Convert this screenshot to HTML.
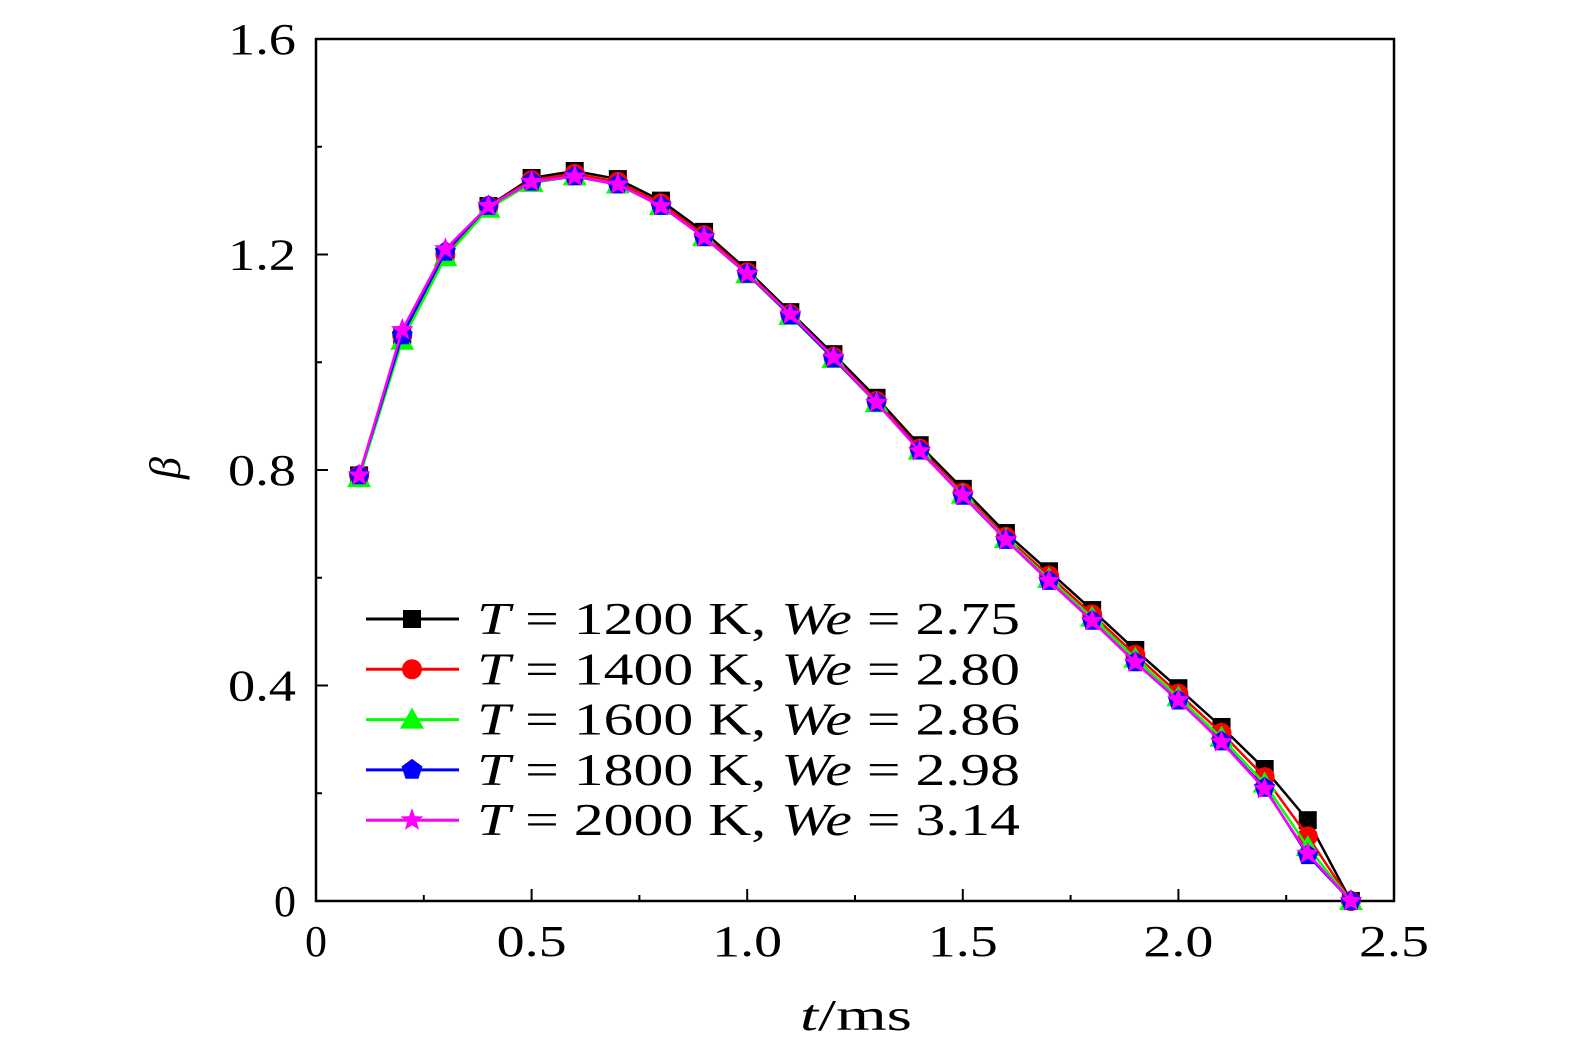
<!DOCTYPE html>
<html><head><meta charset="utf-8"><style>
html,body{margin:0;padding:0;background:#fff;}
svg{display:block;font-family:"Liberation Serif",serif;}
</style></head><body>
<svg id="chart" width="1575" height="1063" viewBox="0 0 1575 1063">
<rect x="316" y="39" width="1078" height="862" fill="none" stroke="#000" stroke-width="2.5"/>
<g id="ticks"></g>
<g id="series"></g>
<g id="legend"></g>
<text x="856" y="1030" font-size="44" text-anchor="middle" textLength="112" lengthAdjust="spacingAndGlyphs"><tspan font-style="italic">t</tspan>/ms</text>
<text x="0" y="0" font-size="44" font-style="italic" text-anchor="middle" transform="translate(180,468) rotate(-90)">β</text>
</svg>
<script>
const times=[0.1,0.2,0.3,0.4,0.5,0.6,0.7,0.8,0.9,1.0,1.1,1.2,1.3,1.4,1.5,1.6,1.7,1.8,1.9,2.0,2.1,2.2,2.3,2.4];
const s1200=[0.79,1.05,1.20,1.29,1.342,1.355,1.34,1.30,1.242,1.171,1.093,1.015,0.934,0.846,0.765,0.683,0.612,0.540,0.466,0.395,0.323,0.245,0.150,0.0];
const s1400=[0.79,1.05,1.20,1.29,1.338,1.350,1.335,1.295,1.236,1.167,1.089,1.010,0.928,0.840,0.758,0.676,0.604,0.532,0.457,0.385,0.312,0.230,0.120,0.0];
const s1600=[0.785,1.04,1.195,1.285,1.333,1.345,1.330,1.290,1.232,1.163,1.086,1.006,0.924,0.836,0.754,0.672,0.598,0.526,0.450,0.378,0.303,0.218,0.100,0.0];
const s1800=[0.79,1.05,1.205,1.29,1.335,1.345,1.330,1.290,1.232,1.164,1.087,1.007,0.925,0.836,0.752,0.670,0.594,0.520,0.443,0.372,0.296,0.210,0.085,0.0];
const s2000=[0.79,1.06,1.21,1.29,1.335,1.345,1.330,1.290,1.232,1.164,1.089,1.009,0.925,0.835,0.753,0.670,0.594,0.520,0.443,0.373,0.295,0.208,0.088,0.0];
const legendLabels=["1200","1400","1600","1800","2000"];
const weLabels=["2.75","2.80","2.86","2.98","3.14"];
const xTicks=[0,0.5,1.0,1.5,2.0,2.5];
const xTickLabels=["0","0.5","1.0","1.5","2.0","2.5"];
const yTicks=[0,0.4,0.8,1.2,1.6];
const yTickLabels=["0","0.4","0.8","1.2","1.6"];

const NS="http://www.w3.org/2000/svg";
const X=v=>316+v*(1078/2.5);
const Y=v=>901-v*(862/1.6);
function mk(tag,attrs,parent){const e=document.createElementNS(NS,tag);for(const k in attrs)e.setAttribute(k,attrs[k]);parent.appendChild(e);return e;}
const tg=document.getElementById('ticks');
xTicks.forEach((v,i)=>{
  const l=mk('line',{x1:X(v),x2:X(v),y1:901,y2:889,stroke:'#000','stroke-width':2},tg);
  
  
  if(i<xTicks.length-1){const m=mk('line',{x1:X(v+0.25),x2:X(v+0.25),y1:901,y2:895,stroke:'#000','stroke-width':2},tg);
  
  }
  const t=mk('text',{x:X(v),y:956,'font-size':44,'text-anchor':'middle'},tg);t.textContent=xTickLabels[i];
  if(xTickLabels[i].length>1){t.setAttribute('textLength',70);t.setAttribute('lengthAdjust','spacingAndGlyphs');}
  
  
});
yTicks.forEach((v,i)=>{
  const l=mk('line',{x1:316,x2:328,y1:Y(v),y2:Y(v),stroke:'#000','stroke-width':2},tg);
  
  
  if(i<yTicks.length-1){const m=mk('line',{x1:316,x2:322,y1:Y(v+0.2),y2:Y(v+0.2),stroke:'#000','stroke-width':2},tg);
  
  }
  const t=mk('text',{x:296,y:Y(v)+15,'font-size':44,'text-anchor':'end'},tg);t.textContent=yTickLabels[i];
  if(yTickLabels[i].length>1){t.setAttribute('textLength',68);t.setAttribute('lengthAdjust','spacingAndGlyphs');}
  
  
});
function marker(type,cx,cy,color,parent){
  let e;
  if(type==='square')e=mk('rect',{x:cx-9,y:cy-9,width:18,height:18,fill:color},parent);
  else if(type==='circle')e=mk('circle',{cx:cx,cy:cy,r:10,fill:color},parent);
  else if(type==='triangle')e=mk('polygon',{points:`${cx},${cy-12} ${cx+12},${cy+9} ${cx-12},${cy+9}`,fill:color},parent);
  else if(type==='pentagon'){let p=[];for(let k=0;k<5;k++){const a=-Math.PI/2+k*2*Math.PI/5;p.push((cx+11*Math.cos(a))+','+(cy+11*Math.sin(a)));}e=mk('polygon',{points:p.join(' '),fill:color},parent);}
  else {let p=[];for(let k=0;k<10;k++){const r=k%2?5:12;const a=-Math.PI/2+k*Math.PI/5;p.push((cx+r*Math.cos(a))+','+(cy+r*Math.sin(a)));}e=mk('polygon',{points:p.join(' '),fill:color},parent);}
  return e;
}
const series=[[s1200,'#000','square'],[s1400,'#f00','circle'],[s1600,'#0f0','triangle'],[s1800,'#00f','pentagon'],[s2000,'#f0f','star']];
const sg=document.getElementById('series');
series.forEach(([d,c,m],si)=>{
  const g=mk('g',{},sg);
  
  
  const pl=mk('polyline',{points:d.map((v,i)=>X(times[i])+','+Y(v)).join(' '),fill:'none',stroke:c,'stroke-width':2.5},g);
  
  
  d.forEach((v,i)=>{const e=marker(m,X(times[i]),Y(v),c,g);
    
    });
});
const lg=document.getElementById('legend');
series.forEach(([d,c,m],i)=>{
  const y=619+i*50.3;
  const g=mk('g',{},lg);
  
  
  mk('line',{x1:366,x2:459,y1:y,y2:y,stroke:c,'stroke-width':3},g);
  marker(m,412,y,c,g);
  const t=mk('text',{x:477,y:y+15,'font-size':46,textLength:543,lengthAdjust:'spacingAndGlyphs'},g);
  t.innerHTML=`<tspan font-style="italic">T</tspan> = ${legendLabels[i]} K, <tspan font-style="italic">We</tspan> = ${weLabels[i]}`;
});
</script>
</body></html>
